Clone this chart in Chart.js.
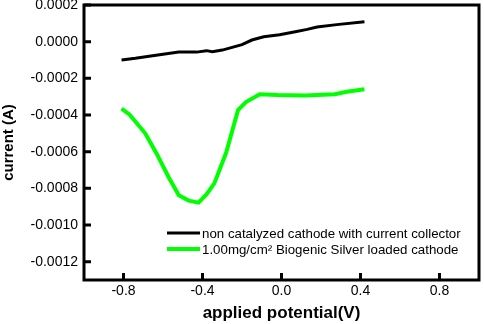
<!DOCTYPE html>
<html>
<head>
<meta charset="utf-8">
<script src="https://cdn.jsdelivr.net/npm/chart.js@4/dist/chart.umd.min.js"></script>
<style>
  html, body { margin: 0; padding: 0; background: #fff; }
  #wrap { width: 484px; height: 324px; }
</style>
</head>
<body>
<div id="wrap"><canvas id="canvas" width="484" height="324"></canvas></div>
<script>
// potential (V) and current (A)
var blackX = [-0.81, -0.74, -0.60, -0.52, -0.43, -0.38, -0.35, -0.30, -0.20, -0.15, -0.09, -0.01, 0.07, 0.13, 0.18, 0.28, 0.42];
var blackY = [-0.000100, -0.000091, -0.000069, -0.000057, -0.000057, -0.000049, -0.000055, -0.000046, -0.000016, 0.000009, 0.000027, 0.000038, 0.000054, 0.000067, 0.000080, 0.000093, 0.000109];

var greenX = [-0.81, -0.77, -0.69, -0.63, -0.57, -0.52, -0.47, -0.42, -0.38, -0.34, -0.28, -0.22, -0.18, -0.11, -0.02, 0.12, 0.27, 0.33, 0.42];
var greenY = [-0.000365, -0.000397, -0.000500, -0.000615, -0.000742, -0.000838, -0.000867, -0.000878, -0.000833, -0.000773, -0.000605, -0.000373, -0.000329, -0.000287, -0.000291, -0.000293, -0.000287, -0.000273, -0.000260];

var seriesNames = ["non catalyzed cathode with current collector", "1.00mg/cm\u00B2 Biogenic Silver loaded cathode"];
var xTicks = [-0.8, -0.4, 0.0, 0.4, 0.8];
var yTicks = [0.0002, 0.0000, -0.0002, -0.0004, -0.0006, -0.0008, -0.0010, -0.0012];

var FONT = "'Liberation Sans', Arial, sans-serif";

function pairs(xs, ys) {
    var out = [];
    for (var i = 0; i < xs.length; i++)
        out.push({x: xs[i], y: ys[i]});
    return out;
}

// frame, inward tick marks and the legend inside the plot
var framePlugin = {
    id: "frame",
    afterDraw: function(chart) {
        var ctx = chart.ctx;
        var a = chart.chartArea;
        var xs = chart.scales.x, ys = chart.scales.y;
        ctx.save();
        ctx.strokeStyle = "#000";
        ctx.lineWidth = 3;
        ctx.lineCap = "butt";
        ctx.beginPath();
        ctx.rect(a.left, a.top, a.right - a.left, a.bottom - a.top);
        ctx.stroke();

        ctx.beginPath();
        xs.ticks.forEach(function(t) {
            var px = xs.getPixelForValue(t.value);
            ctx.moveTo(px, a.bottom);
            ctx.lineTo(px, a.bottom - 7);
        });
        ys.ticks.forEach(function(t) {
            var py = ys.getPixelForValue(t.value);
            ctx.moveTo(a.left, py);
            ctx.lineTo(a.left + 7, py);
        });
        ctx.stroke();

        // legend
        ctx.font = "13.3px " + FONT;
        ctx.textBaseline = "middle";
        ctx.textAlign = "left";
        ctx.fillStyle = "#000";
        chart.data.datasets.forEach(function(ds, i) {
            var y = 233 + i * 16;
            ctx.strokeStyle = ds.borderColor;
            ctx.lineWidth = ds.borderWidth;
            ctx.beginPath();
            ctx.moveTo(167, y);
            ctx.lineTo(200, y);
            ctx.stroke();
            ctx.fillText(ds.label, 202, y + 1);
        });
        ctx.restore();
    }
};

var chart = new Chart(document.getElementById("canvas").getContext("2d"), {
    type: "line",
    data: {
        datasets: [{
            label: seriesNames[0],
            data: pairs(blackX, blackY),
            borderColor: "#000000",
            borderWidth: 3,
            pointRadius: 0,
            tension: 0,
            fill: false
        }, {
            label: seriesNames[1],
            data: pairs(greenX, greenY),
            borderColor: "#00ff00",
            borderWidth: 4,
            pointRadius: 0,
            tension: 0,
            fill: false
        }]
    },
    options: {
        responsive: false,
        animation: false,
        layout: { padding: { top: 5, right: 5, left: 0, bottom: 0 } },
        plugins: {
            legend: { display: false },
            tooltip: { enabled: false }
        },
        scales: {
            x: {
                type: "linear",
                min: -1.0,
                max: 1.0,
                grid: { display: false, drawTicks: false },
                border: { display: false },
                afterBuildTicks: function(scale) {
                    scale.ticks = xTicks.map(function(v) { return {value: v}; });
                },
                afterFit: function(scale) {
                    scale.height = 44;
                    scale.paddingLeft = 0;
                    scale.paddingRight = 0;
                },
                ticks: {
                    padding: 3,
                    color: "#000",
                    font: { family: FONT, size: 14 },
                    maxRotation: 0,
                    callback: function(v) { return Number(v).toFixed(1); }
                },
                title: {
                    display: true,
                    text: "applied potential(V)",
                    color: "#000",
                    padding: 0,
                    font: { family: FONT, size: 17, weight: "bold" }
                }
            },
            y: {
                type: "linear",
                min: -0.0013,
                max: 0.0002,
                grid: { display: false, drawTicks: false },
                border: { display: false },
                afterBuildTicks: function(scale) {
                    scale.ticks = yTicks.map(function(v) { return {value: v}; });
                },
                afterFit: function(scale) {
                    scale.width = 84;
                    scale.paddingTop = 0;
                    scale.paddingBottom = 0;
                },
                ticks: {
                    padding: 6,
                    color: "#000",
                    font: { family: FONT, size: 14 },
                    callback: function(v) { return Number(v).toFixed(4); }
                },
                title: {
                    display: true,
                    text: "current (A)",
                    color: "#000",
                    padding: 0,
                    font: { family: FONT, size: 15, weight: "bold" }
                }
            }
        }
    },
    plugins: [framePlugin]
});
</script>
</body>
</html>
